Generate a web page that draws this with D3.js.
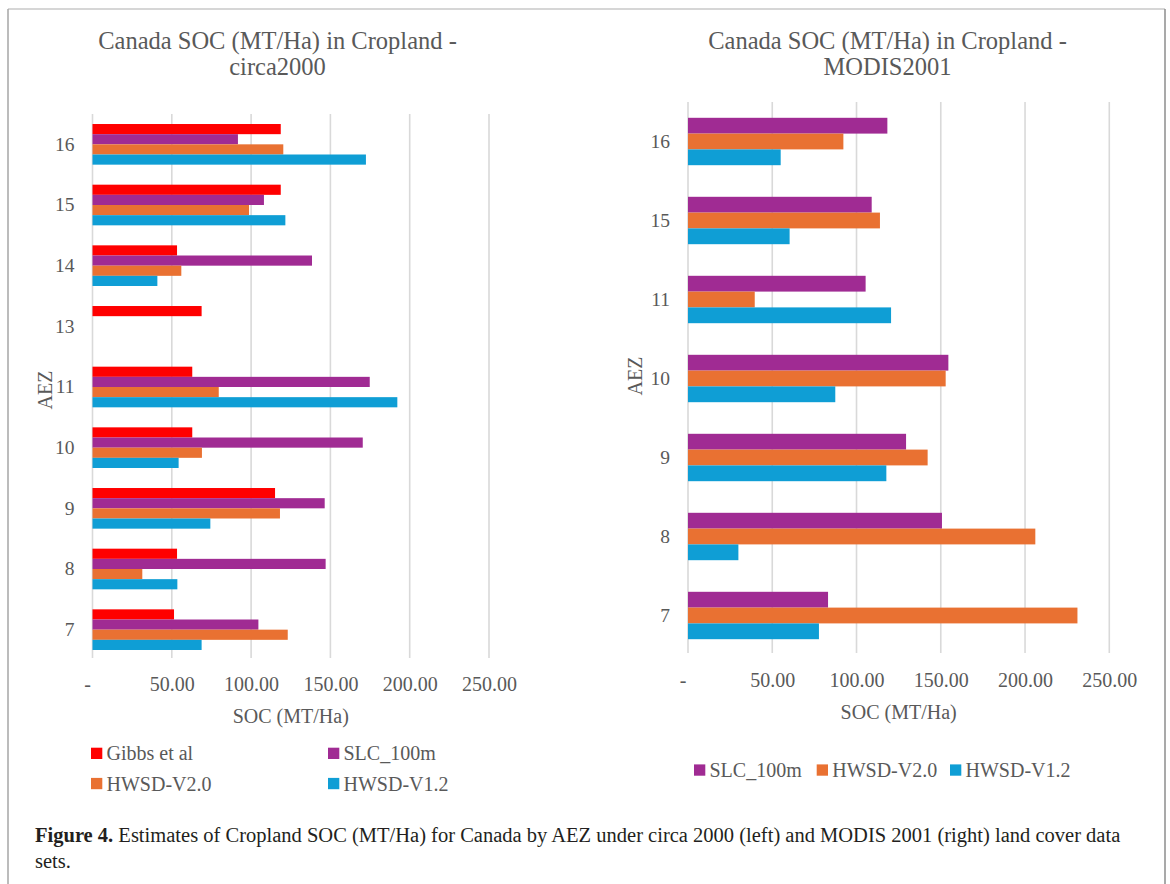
<!DOCTYPE html>
<html>
<head>
<meta charset="utf-8">
<script src="https://cdn.jsdelivr.net/npm/d3@7"></script>
<style>
  html, body { margin: 0; padding: 0; background: #fff; }
  svg { display: block; }
  text { font-family: "Liberation Serif", "Times New Roman", serif; }
</style>
</head>
<body>
<svg id="fig" width="1170" height="884"></svg>
<script>
// Agro-ecological zones shown on each panel (top to bottom)
const zonesCirca2000 = ["16", "15", "14", "13", "11", "10", "9", "8", "7"];
const zonesModis2001 = ["16", "15", "11", "10", "9", "8", "7"];

// SOC estimates (MT/Ha), cropland, circa 2000 land cover
const gibbsCirca = [118.7, 118.7, 53.3, 68.8, 62.9, 62.9, 115.1, 53.3, 51.4];
const slcCirca = [91.7, 108.1, 138.4, null, 174.8, 170.4, 146.4, 147.0, 104.6];
const hwsd20Circa = [120.3, 98.7, 56.0, null, 79.6, 69.0, 118.2, 31.4, 123.1];
const hwsd12Circa = [172.4, 121.6, 40.9, null, 192.2, 54.3, 74.3, 53.5, 68.8];

// SOC estimates (MT/Ha), cropland, MODIS 2001 land cover
const slcModis = [118.3, 109.0, 105.4, 154.5, 129.4, 150.7, 83.1];
const hwsd20Modis = [92.2, 113.9, 39.6, 152.9, 142.2, 206.1, 231.1];
const hwsd12Modis = [55.0, 60.3, 120.5, 87.4, 117.7, 29.9, 77.7];

// Series names and colours
const seriesNames = ["Gibbs et al", "SLC_100m", "HWSD-V2.0", "HWSD-V1.2"];
const seriesColors = ["#FF0000", "#A02B93", "#E97132", "#0F9ED5"];

// Value axis ticks
const socTicks = [0, 50, 100, 150, 200, 250];

const svg = d3.select("#fig");
const TXT = "#595959";
const GRID = "#d9d9d9";

// Figure frame
svg.append("line").attr("x1", 8).attr("x2", 1165).attr("y1", 9).attr("y2", 9)
  .attr("stroke", "#c8c8c8").attr("stroke-width", 1.5);
svg.append("line").attr("x1", 8).attr("x2", 8).attr("y1", 9).attr("y2", 884)
  .attr("stroke", "#a6a6a6").attr("stroke-width", 1.5);
svg.append("line").attr("x1", 1165).attr("x2", 1165).attr("y1", 9).attr("y2", 884)
  .attr("stroke", "#8c8c8c").attr("stroke-width", 1.5);

function drawPanel(cfg) {
  const g = svg.append("g");
  const x = d3.scaleLinear().domain([0, 250]).range([cfg.x0, cfg.x1]);
  const y = d3.scaleBand().domain(cfg.zones).range([cfg.y0, cfg.y1])
    .paddingInner(cfg.pad).paddingOuter(cfg.pad / 2);
  const names = cfg.series.map(s => s.name);
  const ySub = d3.scaleBand().domain(names).range([0, y.bandwidth()]);

  // title
  const title = g.append("text").attr("text-anchor", "middle")
    .attr("fill", TXT).style("font-size", "24.5px");
  cfg.title.forEach((line, i) => {
    title.append("tspan").attr("x", cfg.titleX).attr("y", cfg.titleY + i * 26).text(line);
  });

  // gridlines
  g.append("g").selectAll("line").data(socTicks).join("line")
    .attr("x1", d => x(d)).attr("x2", d => x(d))
    .attr("y1", cfg.y0).attr("y2", cfg.y1 - 2)
    .attr("stroke", GRID).attr("stroke-width", 1.6);

  // bars
  const rows = [];
  cfg.zones.forEach((z, i) => {
    cfg.series.forEach(s => {
      if (s.values[i] != null) rows.push({ zone: z, name: s.name, color: s.color, v: s.values[i] });
    });
  });
  g.append("g").selectAll("rect").data(rows).join("rect")
    .attr("x", x(0))
    .attr("y", d => y(d.zone) + ySub(d.name))
    .attr("width", d => x(d.v) - x(0))
    .attr("height", ySub.bandwidth())
    .attr("fill", d => d.color);

  // category axis
  const ya = g.append("g").attr("transform", `translate(${x(0)},0)`)
    .call(d3.axisLeft(y).tickSize(0).tickPadding(18));
  ya.select(".domain").remove();
  ya.selectAll("text").attr("fill", TXT).style("font-size", "19.5px")
    .style("font-family", "Liberation Serif, serif");

  // value axis
  const xa = g.append("g").attr("transform", `translate(0,${cfg.tickY})`)
    .call(d3.axisBottom(x).tickValues(socTicks).tickSize(0).tickPadding(0)
      .tickFormat(d => d === 0 ? "-" : d3.format(".2f")(d)));
  xa.select(".domain").remove();
  xa.selectAll("text").attr("fill", TXT).attr("dy", 0).style("font-size", "20px")
    .style("font-family", "Liberation Serif, serif");
  xa.selectAll(".tick").filter(d => d === 0).select("text").attr("x", -5.5);

  // axis titles
  g.append("text").attr("x", (cfg.x0 + cfg.x1) / 2).attr("y", cfg.tickY + 32)
    .attr("text-anchor", "middle").attr("fill", TXT).style("font-size", "20px")
    .text("SOC (MT/Ha)");
  g.append("text").attr("transform", `translate(${cfg.aezX},${cfg.aezY}) rotate(-90)`)
    .attr("text-anchor", "middle").attr("dy", "0.35em").attr("fill", TXT)
    .style("font-size", "20px").text("AEZ");

  // legend
  const lg = g.append("g");
  cfg.series.forEach((s, i) => {
    const p = cfg.legendPos[i];
    lg.append("rect").attr("x", p[0]).attr("y", p[1] - 5.6).attr("width", 11.3).attr("height", 11.3)
      .attr("fill", s.color);
    lg.append("text").attr("x", p[0] + 15.5).attr("y", p[1]).attr("dy", "0.35em")
      .attr("fill", TXT).style("font-size", "20px").text(s.name);
  });
}

drawPanel({
  title: ["Canada SOC (MT/Ha) in Cropland -", "circa2000"],
  titleX: 277.5, titleY: 49,
  zones: zonesCirca2000,
  series: [
    { name: seriesNames[0], color: seriesColors[0], values: gibbsCirca },
    { name: seriesNames[1], color: seriesColors[1], values: slcCirca },
    { name: seriesNames[2], color: seriesColors[2], values: hwsd20Circa },
    { name: seriesNames[3], color: seriesColors[3], values: hwsd12Circa }
  ],
  x0: 92.5, x1: 489, y0: 114, y1: 660, pad: 0.33,
  tickY: 691, aezX: 45, aezY: 390,
  legendPos: [[91, 753.3], [328, 753.3], [91, 783.5], [328, 783.5]]
});

drawPanel({
  title: ["Canada SOC (MT/Ha) in Cropland -", "MODIS2001"],
  titleX: 887.5, titleY: 49,
  zones: zonesModis2001,
  series: [
    { name: seriesNames[1], color: seriesColors[1], values: slcModis },
    { name: seriesNames[2], color: seriesColors[2], values: hwsd20Modis },
    { name: seriesNames[3], color: seriesColors[3], values: hwsd12Modis }
  ],
  x0: 688, x1: 1109.3, y0: 102, y1: 655, pad: 0.40,
  tickY: 687, aezX: 635, aezY: 376,
  legendPos: [[694, 770], [816.7, 770], [950, 770]]
});

// Caption
const cap = svg.append("text").attr("x", 35).attr("y", 842).attr("fill", "#231f20")
  .style("font-size", "20px");
cap.append("tspan").style("font-weight", "bold").text("Figure 4.");
cap.append("tspan").text(" Estimates of Cropland SOC (MT/Ha) for Canada by AEZ under circa 2000 (left) and MODIS 2001 (right) land cover data");
const cap2 = svg.append("text").attr("x", 35).attr("y", 868).attr("fill", "#231f20")
  .style("font-size", "20px").text("sets.");
// fit the caption line to its column width
const capW = cap.node().getComputedTextLength();
const k = 1086 / capW;
cap.attr("transform", `translate(35,0) scale(${k},1) translate(-35,0)`);
cap2.attr("transform", `translate(35,0) scale(${k},1) translate(-35,0)`);
</script>
</body>
</html>
